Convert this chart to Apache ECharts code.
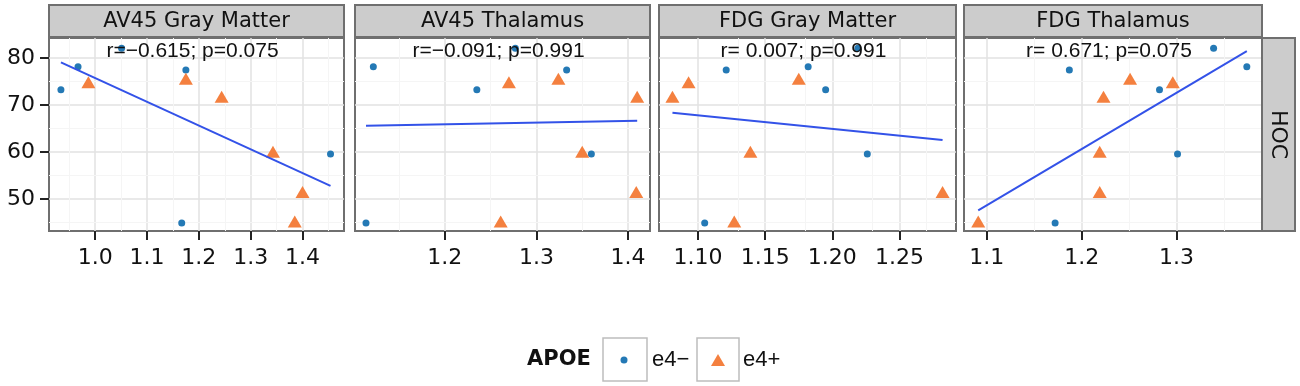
<!DOCTYPE html>
<html>
<head>
<meta charset="utf-8">
<script src="https://cdn.jsdelivr.net/npm/echarts@6/dist/echarts.min.js"></script>
<style>
  html, body { margin: 0; padding: 0; background: #fff; }
  #main { width: 1300px; height: 386px; }
</style>
</head>
<body>
<div id="main"></div>
<script>
// panels and stats
var panels = ['AV45 Gray Matter', 'AV45 Thalamus', 'FDG Gray Matter', 'FDG Thalamus'];
var statText = ['r=\u22120.615; p=0.075', 'r=\u22120.091; p=0.991', 'r= 0.007; p=0.991', 'r= 0.671; p=0.075'];

// HOC values (same subjects in every panel)
var hocNeg = [73.3, 78.2, 82.1, 77.5, 44.9, 59.6];
var hocPos = [74.9, 75.6, 71.8, 60.1, 51.5, 45.2];

// x values per panel, same order as the HOC arrays
var xNeg = [
  [0.934, 0.967, 1.051, 1.175, 1.167, 1.454],
  [1.235, 1.122, 1.277, 1.333, 1.114, 1.360],
  [1.195, 1.182, 1.219, 1.121, 1.105, 1.226],
  [1.282, 1.374, 1.339, 1.187, 1.172, 1.301]
];
var xPos = [
  [0.987, 1.175, 1.244, 1.343, 1.400, 1.385],
  [1.270, 1.324, 1.410, 1.350, 1.409, 1.261],
  [1.093, 1.175, 1.081, 1.139, 1.282, 1.127],
  [1.296, 1.251, 1.223, 1.219, 1.219, 1.091]
];

// fitted line ends
var fitX = [[0.934, 1.454], [1.114, 1.410], [1.081, 1.282], [1.091, 1.374]];
var fitY = [[79.1, 52.8], [65.6, 66.7], [68.4, 62.6], [47.6, 81.5]];

// axes
var xMin = [0.911, 1.102, 1.071, 1.076];
var xMax = [1.480, 1.424, 1.292, 1.390];
var xTicks = [[1.0, 1.1, 1.2, 1.3, 1.4], [1.2, 1.3, 1.4], [1.10, 1.15, 1.20, 1.25], [1.1, 1.2, 1.3]];
var xMinor = [[0.95, 1.05, 1.15, 1.25, 1.35, 1.45], [1.15, 1.25, 1.35], [1.075, 1.125, 1.175, 1.225, 1.275], [1.15, 1.25, 1.35]];
var labelDigits = [1, 1, 2, 1];
var yMin = 43.2, yMax = 84.3;
var yTicks = [50, 60, 70, 80];
var yMinor = [45, 55, 65, 75];

var gridLeft = [49, 355, 659, 964];
var gridWidth = [295, 295, 297, 298];
var gridTop = 38, gridHeight = 193;

var blue = '#2479b5', orange = '#f4803f', fitColor = '#3352e8', ink = '#111';

var chart = echarts.init(document.getElementById('main'));
var grids = [], xAxes = [], yAxes = [], series = [], graphics = [];

for (var i = 0; i < 4; i++) {
  grids.push({
    left: gridLeft[i], top: gridTop, width: gridWidth[i], height: gridHeight,
    show: true, backgroundColor: '#fff', borderColor: '#6f6f6f', borderWidth: 2
  });
  (function (d) {
    xAxes.push({
      type: 'value', gridIndex: i, min: xMin[i], max: xMax[i],
      axisLine: { show: true, onZero: false, lineStyle: { color: '#6f6f6f', width: 2 } },
      splitLine: { show: false },
      axisTick: { show: true, customValues: xTicks[i], length: 9, lineStyle: { color: '#222', width: 2 } },
      axisLabel: {
        customValues: xTicks[i], margin: 16, color: ink,
        fontFamily: 'DejaVu Sans', fontSize: 22,
        formatter: function (v) { return v.toFixed(d); }
      }
    });
  })(labelDigits[i]);
  yAxes.push({
    type: 'value', gridIndex: i, min: yMin, max: yMax,
    axisLine: { show: true, onZero: false, lineStyle: { color: '#6f6f6f', width: 2 } },
    splitLine: { show: false },
    axisTick: { show: i === 0, customValues: yTicks, length: 9, lineStyle: { color: '#222', width: 2 } },
    axisLabel: { show: i === 0, customValues: yTicks, margin: 14, color: ink, fontFamily: 'DejaVu Sans', fontSize: 22 }
  });

  // grid lines as mark lines through the axis scales
  var gl = [];
  xTicks[i].forEach(function (v) { gl.push({ xAxis: v, lineStyle: { color: '#e2e2e2', width: 1.5, type: 'solid' } }); });
  yTicks.forEach(function (v) { gl.push({ yAxis: v, lineStyle: { color: '#e2e2e2', width: 1.5, type: 'solid' } }); });
  xMinor[i].forEach(function (v) { gl.push({ xAxis: v, lineStyle: { color: '#f5f5f5', width: 1, type: 'solid' } }); });
  yMinor.forEach(function (v) { gl.push({ yAxis: v, lineStyle: { color: '#f5f5f5', width: 1, type: 'solid' } }); });

  series.push({
    name: 'e4\u2212', type: 'scatter', xAxisIndex: i, yAxisIndex: i, z: 3,
    symbol: 'circle', symbolSize: 7, itemStyle: { color: blue, opacity: 1 },
    data: xNeg[i].map(function (x, k) { return [x, hocNeg[k]]; })
  });
  series.push({
    name: 'e4+', type: 'scatter', xAxisIndex: i, yAxisIndex: i, z: 3,
    symbol: 'triangle', symbolSize: [14, 12], itemStyle: { color: orange, opacity: 1 },
    data: xPos[i].map(function (x, k) { return [x, hocPos[k]]; })
  });
  series.push({
    type: 'line', xAxisIndex: i, yAxisIndex: i, z: 4, showSymbol: false, silent: true,
    lineStyle: { color: fitColor, width: 2 },
    data: fitX[i].map(function (x, k) { return [x, fitY[i][k]]; }),
    markLine: { z: 1, silent: true, symbol: 'none', animation: false, label: { show: false }, data: gl }
  });

  // facet strip
  graphics.push({
    type: 'rect', z: 10,
    shape: { x: gridLeft[i], y: 5, width: gridWidth[i], height: 32 },
    style: { fill: '#cccccc', stroke: '#6f6f6f', lineWidth: 2 }
  });
  graphics.push({
    type: 'text', z: 11, x: gridLeft[i] + gridWidth[i] / 2, y: 22,
    style: { text: panels[i], fontFamily: 'DejaVu Sans', fontSize: 21, fill: ink, align: 'center', verticalAlign: 'middle' }
  });
  // stats annotation
  graphics.push({
    type: 'text', z: 20, x: gridLeft[i] + gridWidth[i] / 2 - 4, y: 51,
    style: { text: statText[i], fontFamily: 'Liberation Sans', fontSize: 21, fill: ink, align: 'center', verticalAlign: 'middle' }
  });
}

// row strip on the right
graphics.push({
  type: 'rect', z: 10,
  shape: { x: 1262, y: gridTop, width: 33, height: gridHeight },
  style: { fill: '#cccccc', stroke: '#6f6f6f', lineWidth: 2 }
});
graphics.push({
  type: 'text', z: 11, x: 1278, y: gridTop + gridHeight / 2, rotation: -Math.PI / 2,
  style: { text: 'HOC', fontFamily: 'DejaVu Sans', fontSize: 22, fill: ink, align: 'center', verticalAlign: 'middle' }
});

// legend
graphics.push({
  type: 'text', z: 11, x: 527, y: 360,
  style: { text: 'APOE', fontFamily: 'DejaVu Sans', fontWeight: 'bold', fontSize: 21, fill: ink, verticalAlign: 'middle' }
});
graphics.push({ type: 'rect', z: 10, shape: { x: 603, y: 338, width: 44, height: 43 }, style: { fill: '#fff', stroke: '#bdbdbd', lineWidth: 1.5 } });
graphics.push({ type: 'circle', z: 11, shape: { cx: 624, cy: 360, r: 3.5 }, style: { fill: blue } });
graphics.push({
  type: 'text', z: 11, x: 652, y: 360,
  style: { text: 'e4\u2212', fontFamily: 'Liberation Sans', fontSize: 22, fill: ink, verticalAlign: 'middle' }
});
graphics.push({ type: 'rect', z: 10, shape: { x: 697, y: 338, width: 42, height: 43 }, style: { fill: '#fff', stroke: '#bdbdbd', lineWidth: 1.5 } });
graphics.push({ type: 'polygon', z: 11, shape: { points: [[711, 366], [725, 366], [718, 354]] }, style: { fill: orange } });
graphics.push({
  type: 'text', z: 11, x: 743, y: 360,
  style: { text: 'e4+', fontFamily: 'Liberation Sans', fontSize: 22, fill: ink, verticalAlign: 'middle' }
});

chart.setOption({
  animation: false,
  grid: grids,
  xAxis: xAxes,
  yAxis: yAxes,
  series: series,
  graphic: graphics
});
</script>
</body>
</html>
